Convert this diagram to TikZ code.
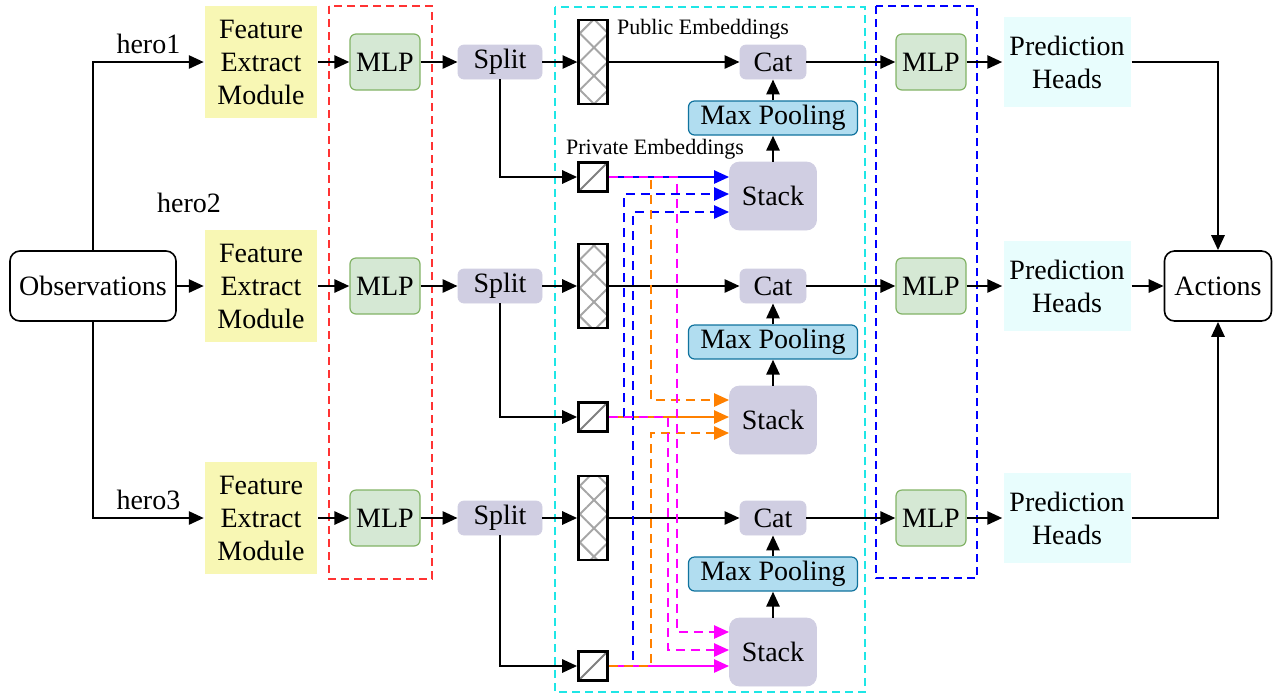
\documentclass[tikz,border=0pt]{standalone}
\usepackage{fontspec}
\setmainfont{Liberation Serif}
\usetikzlibrary{arrows.meta, positioning, patterns.meta}
\definecolor{cfeat}{HTML}{F8F7B4}
\definecolor{cmlp}{HTML}{D5E8D4}
\definecolor{cmlpline}{HTML}{82B366}
\definecolor{cop}{HTML}{D0CEE2}
\definecolor{cpool}{HTML}{B1DDF0}
\definecolor{cpoolline}{HTML}{10739E}
\definecolor{chead}{HTML}{E8FDFD}
\definecolor{cred}{HTML}{FF3333}
\definecolor{ccyan}{HTML}{1EE6E6}
\definecolor{cblue}{HTML}{0000FF}
\definecolor{corange}{HTML}{FF8000}
\definecolor{cmag}{HTML}{FF00FF}
\tikzset{
  every picture/.style={font=\fontsize{14}{16.5}\selectfont, line width=1.2pt},
  box/.style={draw=black, line width=0.8pt, rounded corners=5pt, fill=white, minimum width=#1, minimum height=35pt, inner sep=2pt},
  fe/.style={fill=cfeat, align=center, minimum size=56pt, inner sep=2pt},
  mlp/.style={draw=cmlpline, fill=cmlp, line width=0.6pt, rounded corners=3pt, minimum width=35pt, minimum height=28pt, inner sep=2pt},
  op/.style={draw=cop, fill=cop, line width=0.4pt, rounded corners=3pt, minimum width=#1, minimum height=17pt, inner sep=2pt},
  op/.default=42pt,
  pool/.style={draw=cpoolline, fill=cpool, line width=0.6pt, rounded corners=3pt, minimum width=84.5pt, minimum height=17pt, inner sep=2pt},
  stackbox/.style={draw=cop, fill=cop, line width=0.4pt, rounded corners=5pt, minimum width=43.5pt, minimum height=34pt, inner sep=2pt},
  head/.style={fill=chead, align=center, minimum width=63.5pt, minimum height=45pt, inner sep=1pt},
  pub/.style={draw=black, line width=1.3pt, pattern={Hatch[angle=45, distance=10pt, line width=1pt]}, pattern color=gray!70, minimum width=14.5pt, minimum height=42pt, inner sep=0pt},
  priv/.style={draw=black, line width=1.3pt, minimum size=14.5pt, inner sep=0pt,
    path picture={\draw[gray, line width=0.9pt] (path picture bounding box.south west) -- (path picture bounding box.north east);}},
  arrow/.style={-{Triangle[length=7.5pt, width=6.5pt]}, line width=1.35pt},
  feed/.style={-{Triangle[length=7.5pt, width=6.5pt]}, draw=#1, line width=1.25pt},
  dashline/.style={dash pattern=on 4.5pt off 3pt},
  group/.style={draw=#1, line width=1.4pt, dash pattern=on 4pt off 2.5pt},
  note/.style={font=\fontsize{11}{13}\selectfont},
}

\begin{document}
\begin{tikzpicture}[x=0.5pt, y=-0.5pt]
  \useasboundingbox (0,0) rectangle (1281,698);
  % groups
  \draw[group=cred] (329,6) rectangle (432,579);
  \draw[group=ccyan] (555,7) rectangle (865,692);
  \draw[group=cblue] (876,6) rectangle (977,578);
  % ends
  \node[box=83pt] (obs) at (93,286) {Observations};
  \node[box=53.5pt] (act) at (1218,286) {Actions};
  \node (h2) at (189,203) {hero2};
  \node[note] (publ) at (703,29) {Public Embeddings};
  \node[note] (privl) at (655,149) {Private Embeddings};
  % one row per hero
  \foreach \i/\y/\q in {1/62/177, 2/286/417, 3/518/666} {
    \node[fe] (fe\i) at (261,\y) {Feature\\Extract\\Module};
    \node[mlp] (ma\i) at (385,\y) {MLP};
    \node[op] (sp\i) at (500,\y) {Split};
    \node[pub] (pu\i) at (593,\y) {};
    \node[priv] (pr\i) at (593,\q) {};
    \node[op=33pt] (cat\i) at (773,\y) {Cat};
    \node[pool] (mp\i) at (773,\y+56) {Max Pooling};
    \node[stackbox] (st\i) at (773,\y+134) {Stack};
    \node[mlp] (mb\i) at (931,\y) {MLP};
    \node[head] (ph\i) at (1067,\y) {Prediction\\Heads};
    \draw[arrow] (fe\i) -- (ma\i);
    \draw[arrow] (ma\i) -- (sp\i);
    \draw[arrow] (sp\i) -- (pu\i);
    \draw[arrow] (pu\i) -- (cat\i);
    \draw[arrow] (sp\i.south) |- (pr\i.west);
    \draw[arrow] (st\i) -- (mp\i);
    \draw[arrow] (mp\i) -- (cat\i);
    \draw[arrow] (cat\i) -- (mb\i);
    \draw[arrow] (mb\i) -- (ph\i);
  }
  \draw[arrow] (obs.north) |- node[pos=0.75, above] (h1) {hero1} (fe1.west);
  \draw[arrow] (obs) -- (fe2);
  \draw[arrow] (obs.south) |- node[pos=0.75, above] (h3) {hero3} (fe3.west);
  \draw[arrow] (ph1.east) -| (act.north);
  \draw[arrow] (ph2) -- (act);
  \draw[arrow] (ph3.east) -| (act.south);
  % private embeddings to the stacks
  \foreach \i/\c in {1/cblue, 2/corange, 3/cmag}
    \draw[feed=\c] (pr\i.east) -- (st\i.west |- pr\i.east);
  \foreach \s/\d/\x/\h/\c in {2/1/624/194/cblue, 3/1/633/212/cblue, 1/2/651/400/corange,
                              3/2/651/433/corange, 1/3/677/632/cmag, 2/3/668/650/cmag}
    \draw[feed=\c, dashline] (pr\s.east) -| (\x,\h) -- (st\d.west |- \x,\h);
\end{tikzpicture}
\end{document}
